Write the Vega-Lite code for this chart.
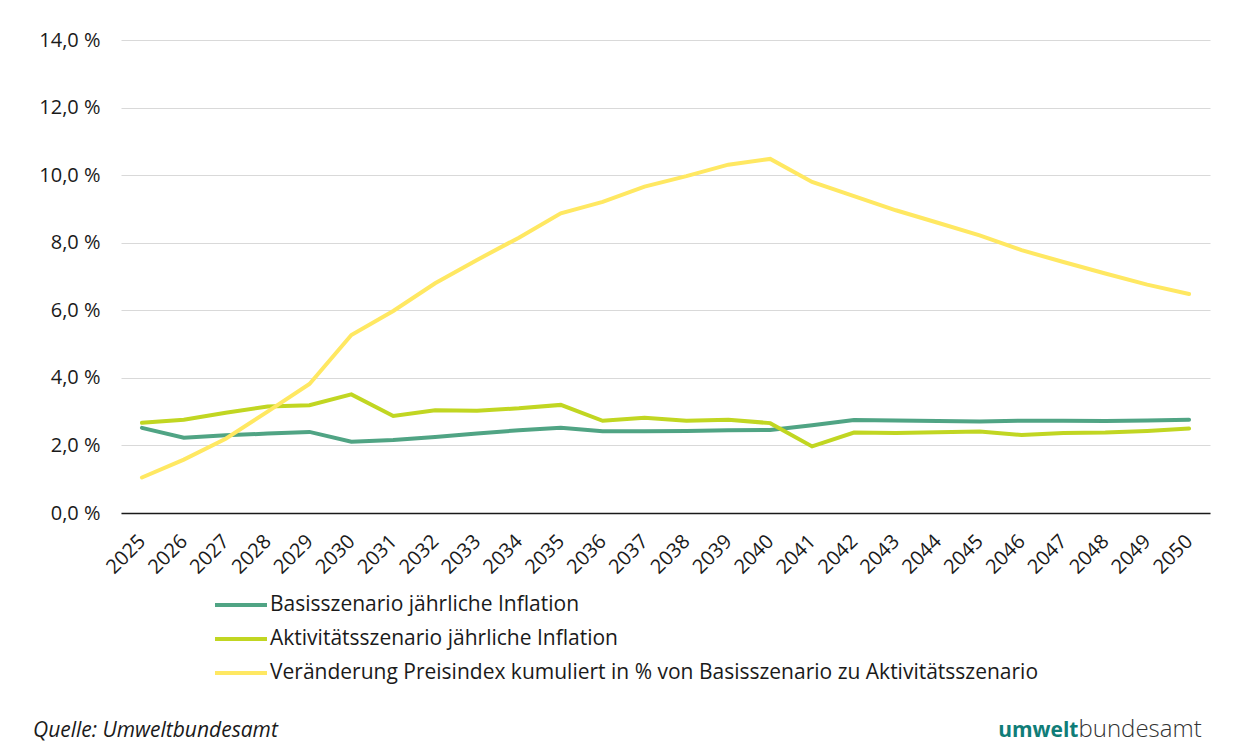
{
  "$schema": "https://vega.github.io/schema/vega-lite/v6.json",
  "autosize": {"type": "none"},
  "width": 1089,
  "height": 473,
  "padding": {"left": 121, "top": 40, "right": 42, "bottom": 238},
  "background": "white",
  "config": {
    "font": "Open Sans",
    "view": {"stroke": null},
    "axis": {"labelFont": "Open Sans", "labelColor": "#1a1a1a", "labelFontSize": 20}
  },
  "title": {
    "text": "Quelle: Umweltbundesamt",
    "orient": "bottom",
    "anchor": "start",
    "frame": "group",
    "baseline": "alphabetic",
    "font": "Open Sans",
    "fontStyle": "italic",
    "fontWeight": "normal",
    "fontSize": 21,
    "color": "#1a1a1a",
    "dx": -88,
    "offset": -4
  },
  "data": {
    "values": [
      {"Jahr": "2025", "B": 2.52, "A": 2.67, "V": 1.05},
      {"Jahr": "2026", "B": 2.23, "A": 2.76, "V": 1.58},
      {"Jahr": "2027", "B": 2.30, "A": 2.97, "V": 2.20},
      {"Jahr": "2028", "B": 2.35, "A": 3.15, "V": 3.00},
      {"Jahr": "2029", "B": 2.40, "A": 3.19, "V": 3.82},
      {"Jahr": "2030", "B": 2.11, "A": 3.51, "V": 5.27},
      {"Jahr": "2031", "B": 2.16, "A": 2.87, "V": 5.98},
      {"Jahr": "2032", "B": 2.25, "A": 3.04, "V": 6.80},
      {"Jahr": "2033", "B": 2.35, "A": 3.03, "V": 7.49},
      {"Jahr": "2034", "B": 2.45, "A": 3.10, "V": 8.15},
      {"Jahr": "2035", "B": 2.52, "A": 3.20, "V": 8.87},
      {"Jahr": "2036", "B": 2.42, "A": 2.73, "V": 9.21},
      {"Jahr": "2037", "B": 2.42, "A": 2.82, "V": 9.66},
      {"Jahr": "2038", "B": 2.43, "A": 2.73, "V": 9.97},
      {"Jahr": "2039", "B": 2.45, "A": 2.76, "V": 10.31},
      {"Jahr": "2040", "B": 2.46, "A": 2.66, "V": 10.48},
      {"Jahr": "2041", "B": 2.60, "A": 1.97, "V": 9.80},
      {"Jahr": "2042", "B": 2.75, "A": 2.38, "V": 9.38},
      {"Jahr": "2043", "B": 2.74, "A": 2.37, "V": 8.96},
      {"Jahr": "2044", "B": 2.72, "A": 2.39, "V": 8.59},
      {"Jahr": "2045", "B": 2.71, "A": 2.41, "V": 8.22},
      {"Jahr": "2046", "B": 2.73, "A": 2.31, "V": 7.78},
      {"Jahr": "2047", "B": 2.73, "A": 2.37, "V": 7.43},
      {"Jahr": "2048", "B": 2.72, "A": 2.38, "V": 7.09},
      {"Jahr": "2049", "B": 2.74, "A": 2.43, "V": 6.76},
      {"Jahr": "2050", "B": 2.76, "A": 2.50, "V": 6.48}
    ]
  },
  "transform": [
    {"fold": ["B", "A", "V"], "as": ["key", "Wert"]},
    {"lookup": "key", "from": {"data": {"values": [
      {"key": "B", "Reihe": "Basisszenario jährliche Inflation", "o": 1},
      {"key": "A", "Reihe": "Aktivitätsszenario jährliche Inflation", "o": 2},
      {"key": "V", "Reihe": "Veränderung Preisindex kumuliert in % von Basisszenario zu Aktivitätsszenario", "o": 3}
    ]}, "key": "key", "fields": ["Reihe", "o"]}}
  ],
  "mark": {"type": "line", "strokeWidth": 4, "strokeCap": "round", "strokeJoin": "miter", "clip": false},
  "encoding": {
    "x": {
      "field": "Jahr",
      "type": "ordinal",
      "scale": {"padding": 0.5},
      "axis": {
        "labelAngle": -45,
        "labelAlign": "right",
        "labelBaseline": "middle",
        "labelPadding": 25,
        "ticks": false,
        "domainColor": "#1a1a1a",
        "domainWidth": 1.5,
        "grid": false,
        "title": "umwelt",
        "titleFont": "Open Sans",
        "titleFontSize": 21,
        "titleFontWeight": "bold",
        "titleColor": "#0f7d78",
        "titleAlign": "right",
        "titleBaseline": "alphabetic",
        "titleAnchor": null,
        "titleAngle": 0,
        "titleX": 957,
        "titleY": 223
      }
    },
    "y": {
      "field": "Wert",
      "type": "quantitative",
      "scale": {"domain": [0, 14], "nice": false},
      "axis": {
        "values": [0, 2, 4, 6, 8, 10, 12, 14],
        "labelExpr": "replace(format(datum.value, '.1f'), '.', ',') + ' %'",
        "labelPadding": 21,
        "ticks": false,
        "domain": false,
        "gridColor": "#d9d9d9",
        "gridWidth": 1.2,
        "title": "bundesamt",
        "titleFont": "Open Sans",
        "titleFontSize": 24,
        "titleFontWeight": 300,
        "titleColor": "#333333",
        "titleAlign": "left",
        "titleBaseline": "alphabetic",
        "titleAngle": 0,
        "titleAnchor": null,
        "titleX": 957,
        "titleY": 696
      }
    },
    "color": {
      "field": "Reihe",
      "type": "nominal",
      "sort": {"field": "o"},
      "scale": {
        "domain": [
          "Basisszenario jährliche Inflation",
          "Aktivitätsszenario jährliche Inflation",
          "Veränderung Preisindex kumuliert in % von Basisszenario zu Aktivitätsszenario"
        ],
        "range": ["#50a484", "#c1d622", "#ffe862"]
      },
      "legend": {
        "orient": "none",
        "legendX": 92,
        "legendY": 551,
        "direction": "vertical",
        "title": null,
        "symbolType": "stroke",
        "symbolSize": 2704,
        "symbolStrokeWidth": 4,
        "labelFont": "Open Sans",
        "labelFontSize": 21,
        "labelColor": "#1a1a1a",
        "labelOffset": 1,
        "labelLimit": 1000,
        "clipHeight": 28,
        "rowPadding": 6
      }
    },
    "order": {"field": "o"}
  }
}
